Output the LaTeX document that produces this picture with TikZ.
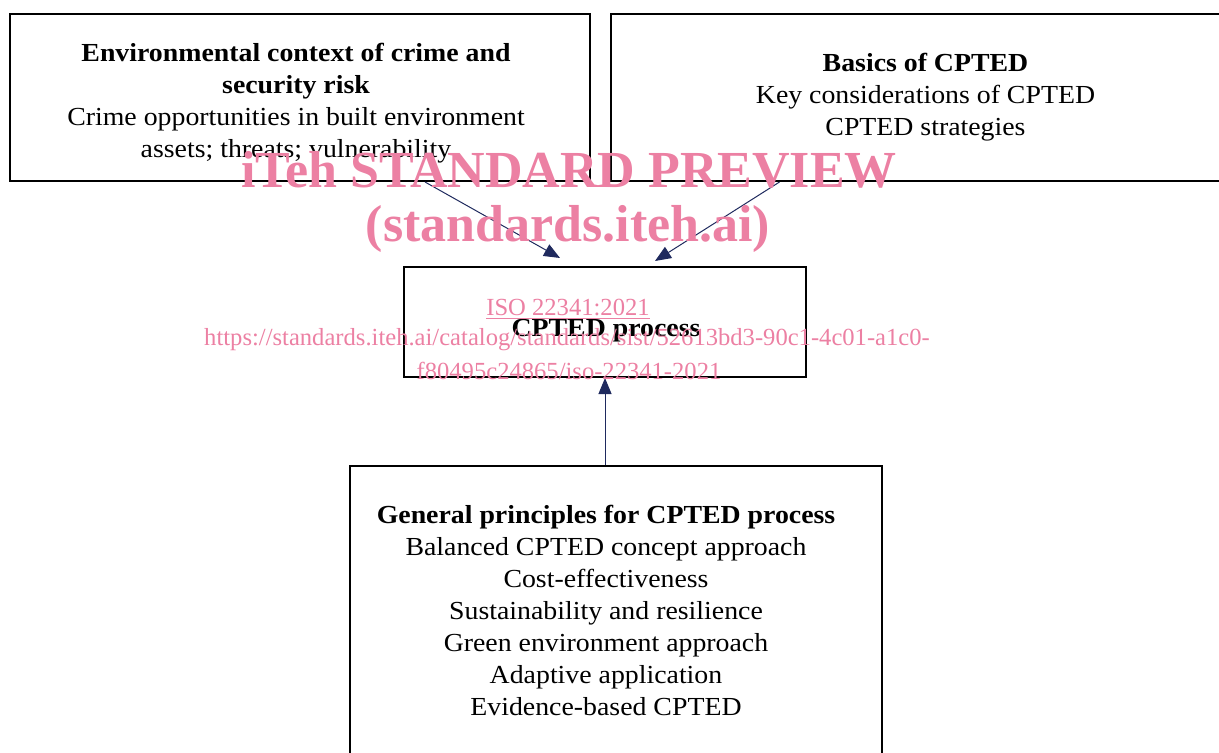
\documentclass[tikz,border=0pt]{standalone}
\usepackage{fontspec}
\setmainfont[FakeStretch=1.07]{Liberation Serif}
\newfontfamily\wmfont{Liberation Serif}
\usetikzlibrary{arrows.meta}
\definecolor{navy}{RGB}{31,42,94}
\definecolor{wmpink}{RGB}{236,128,163}
\tikzset{x=0.5pt, y=-0.5pt,
    box/.style={draw, line width=1pt, inner sep=0pt},
    boxtext/.style={align=center, font=\fontsize{13}{16}\selectfont},
    feed/.style={draw=navy, line width=0.5pt, -{Triangle[length=8pt,width=6.5pt]}},
    wmark/.style={text=wmpink, align=center, inner sep=0pt},
    }

\begin{document}
\begin{tikzpicture}
\useasboundingbox (0,0) rectangle (1219,753);
\clip (0,0) rectangle (1219,753);
% upper boxes
\node[box, minimum width=290pt, minimum height=83.5pt] (env) at (300,97.5) {};
\node[boxtext] (envtext) at (296,103)
	{\textbf{Environmental context of crime and}\\\textbf{security risk}\\
	 Crime opportunities in built environment\\assets; threats; vulnerability};
\node[box, boxtext, minimum width=314.5pt, minimum height=83.5pt] (basics) at (925.5,97.5)
	{\textbf{Basics of CPTED}\\Key considerations of CPTED\\CPTED strategies};
% process
\node[box, minimum width=201pt, minimum height=55pt] (cp) at (605,322) {};
\node[boxtext] (cptext) at (606,331) {\textbf{CPTED process}};
% principles
\node[box, minimum width=266pt, minimum height=160pt] (gp) at (616,626) {};
\node[boxtext] (gptext) at (606,610)
	{\textbf{General principles for CPTED process}\\
	 Balanced CPTED concept approach\\Cost-effectiveness\\
	 Sustainability and resilience\\Green environment approach\\
	 Adaptive application\\Evidence-based CPTED};
% arrows
\draw[feed] ([xshift=62.5pt]env.south) -- ([xshift=-22.5pt,yshift=4pt]cp.north);
\draw[feed] ([xshift=-73pt]basics.south) -- ([xshift=25pt,yshift=2.5pt]cp.north);
\draw[feed] (cp.south |- gp.north) -- (cp.south);
% watermark
\node[wmark, font=\wmfont\bfseries\fontsize{26}{26}\selectfont] (wmA) at (569,170) {iTeh STANDARD PREVIEW};
\node[wmark, font=\wmfont\bfseries\fontsize{26}{26}\selectfont] (wmB) at (568,229) {(standards.iteh.ai)};
\node[wmark, font=\wmfont\fontsize{12.3}{16}\selectfont] (wmC) at (568,309) {\underline{ISO 22341:2021}};
\node[wmark, font=\wmfont\fontsize{12.3}{16}\selectfont] (wmD) at (567,340)
	{https://standards.iteh.ai/catalog/standards/sist/52613bd3-90c1-4c01-a1c0-};
\node[wmark, font=\wmfont\fontsize{12.3}{16}\selectfont] (wmE) at (569,371) {f80495c24865/iso-22341-2021};
\end{tikzpicture}
\end{document}
